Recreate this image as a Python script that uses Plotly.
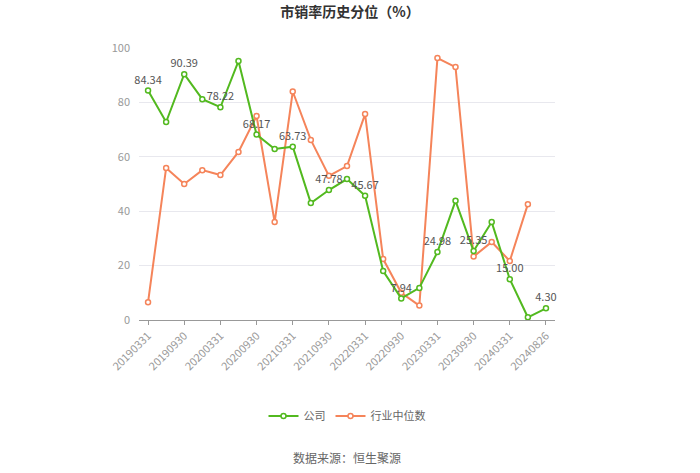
import plotly.graph_objects as go

dates = ["20190331", "20190630", "20190930", "20191231", "20200331", "20200630",
         "20200930", "20201231", "20210331", "20210630", "20210930", "20211231",
         "20220331", "20220630", "20220930", "20221231", "20230331", "20230630",
         "20230930", "20231231", "20240331", "20240630", "20240826"]
company = [84.34, 72.8, 90.39, 81.2, 78.22, 95.2, 68.17, 62.9, 63.73, 43.0, 47.78, 51.8,
           45.67, 18.0, 7.94, 11.8, 24.98, 43.8, 25.35, 36.0, 15.00, 1.0, 4.30]
industry = [6.5, 55.9, 50.0, 55.1, 53.3, 61.8, 75.0, 36.0, 84.0, 66.2, 53.0, 56.6,
            75.7, 22.4, 10.0, 5.3, 96.3, 93.0, 23.3, 28.7, 21.7, 42.6, None]
tick_labels = dates[0::2] + [dates[-1]]

green = "#52b91f"
orange = "#f5845a"

labels = [f"{v:.2f}" if i % 2 == 0 else "" for i, v in enumerate(company)]

fig = go.Figure()
fig.add_trace(go.Scatter(
    x=dates, y=industry, name="行业中位数", mode="lines+markers",
    line=dict(color=orange, width=2),
    marker=dict(symbol="circle", size=5, color="white", line=dict(color=orange, width=1.5)),
    cliponaxis=False,
))
fig.add_trace(go.Scatter(
    x=dates, y=company, name="公司", mode="lines+markers+text",
    text=labels, textposition="top center",
    textfont=dict(size=11, color="#555555"),
    line=dict(color=green, width=2),
    marker=dict(symbol="circle", size=5, color="white", line=dict(color=green, width=1.5)),
    cliponaxis=False,
))

fig.update_layout(
    width=700, height=473,
    margin=dict(l=139, r=145, t=48, b=153),
    paper_bgcolor="white", plot_bgcolor="white",
    font=dict(family="Noto Sans CJK SC, sans-serif", color="#999999"),
    title=dict(text="<b>市销率历史分位（%）</b>", x=0.5, xanchor="center", y=0.975, yanchor="middle",
               font=dict(size=14, color="#333333")),
    showlegend=True,
    legend=dict(orientation="h", x=0.5, xanchor="center", y=-0.353, yanchor="middle",
                font=dict(size=11, color="#666666"), traceorder="reversed",
                itemwidth=30),
    annotations=[dict(text="数据来源：恒生聚源", x=0.5, y=-0.507, xref="paper", yref="paper",
                      showarrow=False, font=dict(size=12, color="#666666"),
                      xanchor="center", yanchor="middle")],
)
fig.update_xaxes(
    type="category", categoryorder="array", categoryarray=dates,
    range=[-0.5, len(dates) - 0.5],
    tickmode="array", tickvals=tick_labels, ticktext=tick_labels,
    tickangle=-45, tickfont=dict(size=11, color="#999999"),
    showgrid=False, showline=True, linecolor="#999999", linewidth=1,
    ticks="outside", ticklen=4, tickcolor="#999999",
)
fig.update_yaxes(
    range=[0, 100], tickvals=[0, 20, 40, 60, 80, 100],
    tickfont=dict(size=11, color="#999999"),
    showgrid=True, gridcolor="#e8e8ee", gridwidth=1, zeroline=False,
    showline=False, ticks="", ticklabelstandoff=8,
)
fig.write_html("out.html")
